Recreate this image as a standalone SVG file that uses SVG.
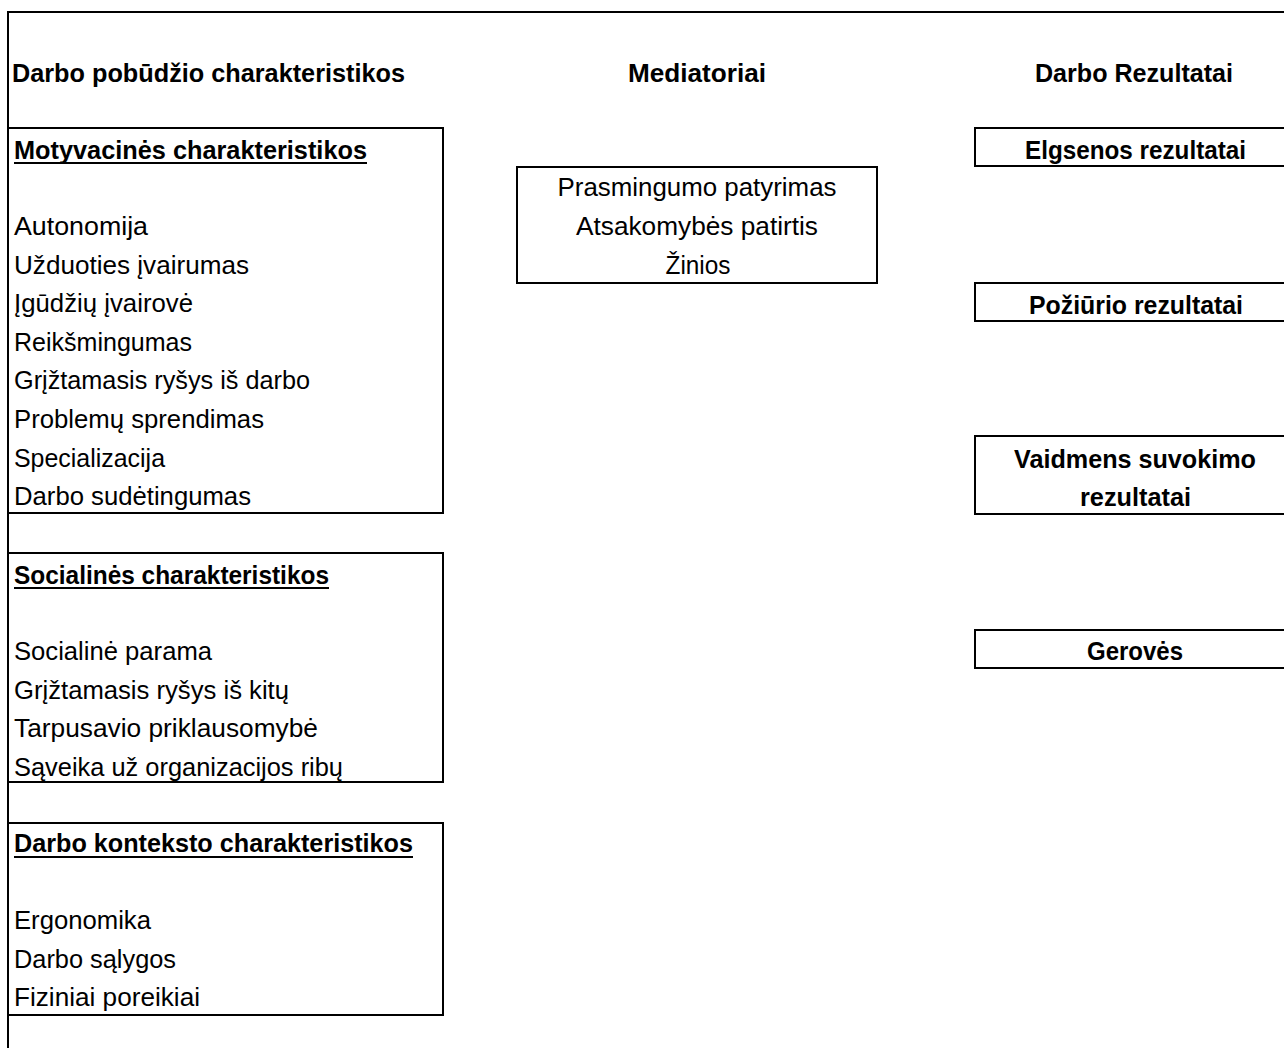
<svg xmlns="http://www.w3.org/2000/svg" width="1284" height="1048" viewBox="0 0 1284 1048">
<style>
  .box { fill: none; stroke: #000; stroke-width: 2; }
  .frame { fill: none; stroke: #000; stroke-width: 2; }
  .ul { stroke: #000; stroke-width: 2; }
  text { font-family: "Liberation Sans", Arial, sans-serif; font-size: 25.5px; fill: #000; }
  .b { font-weight: bold; }
  .c { text-anchor: middle; }
</style>
<rect width="1284" height="1048" fill="#fff"/>
<g id="frame">
  <path class="frame" d="M8 1048 V12 H1284"/>
</g>
<g id="titles">
  <text class="b" x="12" y="82" textLength="393" lengthAdjust="spacingAndGlyphs">Darbo pobūdžio charakteristikos</text>
  <text class="b c" x="697" y="82" textLength="138" lengthAdjust="spacingAndGlyphs">Mediatoriai</text>
  <text class="b c" x="1134" y="82" textLength="198" lengthAdjust="spacingAndGlyphs">Darbo Rezultatai</text>
</g>
<g id="motyvacines">
  <rect class="box" x="8" y="128" width="435" height="385"/>
  <text class="b" x="14" y="159" textLength="353" lengthAdjust="spacingAndGlyphs">Motyvacinės charakteristikos</text>
  <line class="ul" x1="14" y1="163" x2="367" y2="163"/>
  <text x="14" y="235" textLength="134" lengthAdjust="spacingAndGlyphs">Autonomija</text>
  <text x="14" y="273.6" textLength="235" lengthAdjust="spacingAndGlyphs">Užduoties įvairumas</text>
  <text x="14" y="312.2" textLength="179" lengthAdjust="spacingAndGlyphs">Įgūdžių įvairovė</text>
  <text x="14" y="350.8" textLength="178" lengthAdjust="spacingAndGlyphs">Reikšmingumas</text>
  <text x="14" y="389.4" textLength="296" lengthAdjust="spacingAndGlyphs">Grįžtamasis ryšys iš darbo</text>
  <text x="14" y="428" textLength="250" lengthAdjust="spacingAndGlyphs">Problemų sprendimas</text>
  <text x="14" y="466.6" textLength="151" lengthAdjust="spacingAndGlyphs">Specializacija</text>
  <text x="14" y="505.2" textLength="237" lengthAdjust="spacingAndGlyphs">Darbo sudėtingumas</text>
</g>
<g id="socialines">
  <rect class="box" x="8" y="553" width="435" height="229"/>
  <text class="b" x="14" y="584" textLength="315" lengthAdjust="spacingAndGlyphs">Socialinės charakteristikos</text>
  <line class="ul" x1="14" y1="588" x2="329" y2="588"/>
  <text x="14" y="660" textLength="198" lengthAdjust="spacingAndGlyphs">Socialinė parama</text>
  <text x="14" y="698.6" textLength="275" lengthAdjust="spacingAndGlyphs">Grįžtamasis ryšys iš kitų</text>
  <text x="14" y="737.2" textLength="304" lengthAdjust="spacingAndGlyphs">Tarpusavio priklausomybė</text>
  <text x="14" y="775.8" textLength="329" lengthAdjust="spacingAndGlyphs">Sąveika už organizacijos ribų</text>
</g>
<g id="konteksto">
  <rect class="box" x="8" y="823" width="435" height="192"/>
  <text class="b" x="14" y="852" textLength="399" lengthAdjust="spacingAndGlyphs">Darbo konteksto charakteristikos</text>
  <line class="ul" x1="14" y1="857" x2="413" y2="857"/>
  <text x="14" y="929" textLength="137" lengthAdjust="spacingAndGlyphs">Ergonomika</text>
  <text x="14" y="967.6" textLength="162" lengthAdjust="spacingAndGlyphs">Darbo sąlygos</text>
  <text x="14" y="1006.2" textLength="186" lengthAdjust="spacingAndGlyphs">Fiziniai poreikiai</text>
</g>
<g id="mediatoriai">
  <rect class="box" x="517" y="167" width="360" height="116"/>
  <text class="c" x="697" y="196" textLength="279" lengthAdjust="spacingAndGlyphs">Prasmingumo patyrimas</text>
  <text class="c" x="697" y="235" textLength="242" lengthAdjust="spacingAndGlyphs">Atsakomybės patirtis</text>
  <text class="c" x="698" y="274" textLength="65" lengthAdjust="spacingAndGlyphs">Žinios</text>
</g>
<g id="elgsenos">
  <rect class="box" x="975" y="128" width="330" height="38"/>
  <text class="b c" x="1135.5" y="159" textLength="221" lengthAdjust="spacingAndGlyphs">Elgsenos rezultatai</text>
</g>
<g id="poziurio">
  <rect class="box" x="975" y="283" width="330" height="38"/>
  <text class="b c" x="1136" y="314" textLength="214" lengthAdjust="spacingAndGlyphs">Požiūrio rezultatai</text>
</g>
<g id="vaidmens">
  <rect class="box" x="975" y="436" width="330" height="78"/>
  <text class="b c" x="1135" y="468" textLength="242" lengthAdjust="spacingAndGlyphs">Vaidmens suvokimo</text>
  <text class="b c" x="1135.5" y="506" textLength="111" lengthAdjust="spacingAndGlyphs">rezultatai</text>
</g>
<g id="geroves">
  <rect class="box" x="975" y="630" width="330" height="38"/>
  <text class="b c" x="1135" y="660" textLength="96" lengthAdjust="spacingAndGlyphs">Gerovės</text>
</g>
<g id="connectors"/>
</svg>
